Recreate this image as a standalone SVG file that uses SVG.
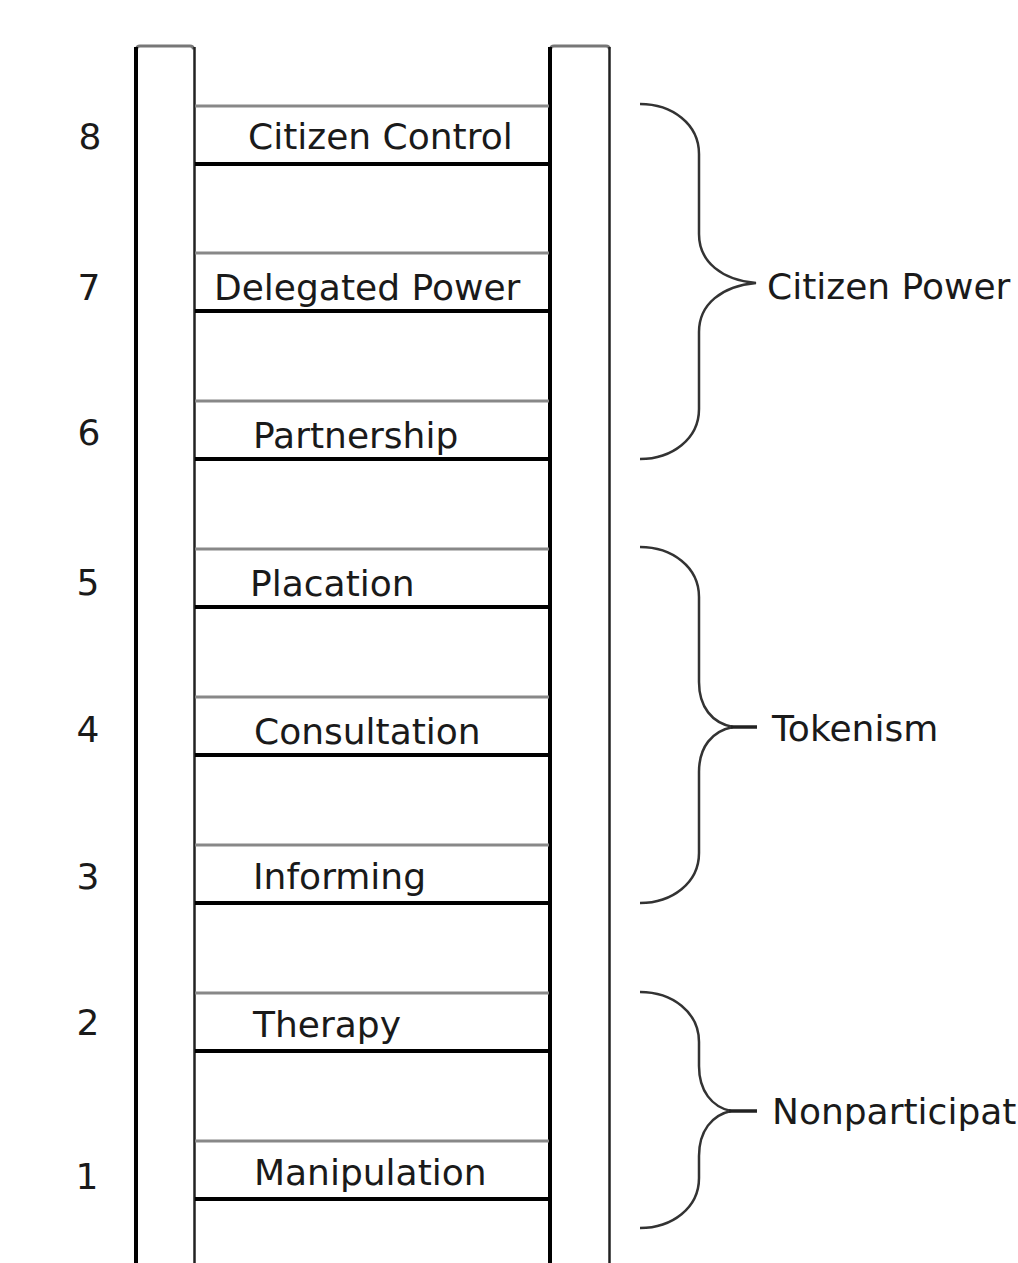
<svg xmlns="http://www.w3.org/2000/svg" width="1018" height="1263" viewBox="0 0 1018 1263">
<style>
  text { font-family: "DejaVu Sans", "Liberation Sans", sans-serif; font-size: 36px; fill: #1a1a1a; }
  .num { text-anchor: middle; }
  .railL { stroke: #000; stroke-width: 4; fill: none; }
  .railR { stroke: #222; stroke-width: 2.5; fill: none; }
  .railT { stroke: #777; stroke-width: 3; fill: none; stroke-linecap: round; }
  .rungT { stroke: #888; stroke-width: 3; }
  .rungB { stroke: #000; stroke-width: 4; }
  .brace { stroke: #333; stroke-width: 2.5; fill: none; }
  .spur { stroke: #222; stroke-width: 3.5; }
</style>
<rect width="1018" height="1263" fill="#fff"/>

<g id="ladder">
  <g id="rail-left">
    <path class="railT" d="M137,48 Q137,46 140,46 H190 Q193,46 193,48"/>
    <line class="railL" x1="136" y1="47" x2="136" y2="1263"/>
    <line class="railR" x1="194.5" y1="47" x2="194.5" y2="1263"/>
  </g>
  <g id="rail-right">
    <path class="railT" d="M551,48 Q551,46 554,46 H606 Q609,46 609,48"/>
    <line class="railL" x1="550" y1="47" x2="550" y2="1263"/>
    <line class="railR" x1="609.5" y1="47" x2="609.5" y2="1263"/>
  </g>
</g>

<g id="rung-8"><line class="rungT" x1="195" y1="106" x2="549" y2="106"/><line class="rungB" x1="195" y1="164" x2="549" y2="164"/><text x="248" y="149">Citizen Control</text></g>
<g id="rung-7"><line class="rungT" x1="195" y1="253" x2="549" y2="253"/><line class="rungB" x1="195" y1="311" x2="549" y2="311"/><text x="214" y="300">Delegated Power</text></g>
<g id="rung-6"><line class="rungT" x1="195" y1="401" x2="549" y2="401"/><line class="rungB" x1="195" y1="459" x2="549" y2="459"/><text x="253" y="448">Partnership</text></g>
<g id="rung-5"><line class="rungT" x1="195" y1="549" x2="549" y2="549"/><line class="rungB" x1="195" y1="607" x2="549" y2="607"/><text x="250" y="596">Placation</text></g>
<g id="rung-4"><line class="rungT" x1="195" y1="697" x2="549" y2="697"/><line class="rungB" x1="195" y1="755" x2="549" y2="755"/><text x="254" y="744">Consultation</text></g>
<g id="rung-3"><line class="rungT" x1="195" y1="845" x2="549" y2="845"/><line class="rungB" x1="195" y1="903" x2="549" y2="903"/><text x="253" y="889">Informing</text></g>
<g id="rung-2"><line class="rungT" x1="195" y1="993" x2="549" y2="993"/><line class="rungB" x1="195" y1="1051" x2="549" y2="1051"/><text x="253" y="1037">Therapy</text></g>
<g id="rung-1"><line class="rungT" x1="195" y1="1141" x2="549" y2="1141"/><line class="rungB" x1="195" y1="1199" x2="549" y2="1199"/><text x="254" y="1185">Manipulation</text></g>

<g id="numbers">
  <text class="num" x="90" y="149">8</text>
  <text class="num" x="89" y="300">7</text>
  <text class="num" x="89" y="445">6</text>
  <text class="num" x="88" y="595">5</text>
  <text class="num" x="88" y="742">4</text>
  <text class="num" x="88" y="889">3</text>
  <text class="num" x="88" y="1035">2</text>
  <text class="num" x="87" y="1189">1</text>
</g>

<g id="group-citizen-power">
  <path class="brace" d="M640,104 C672,104 699,124 699,154 V234 C699,262 722,280 756,283 C722,286 699,304 699,332 V409 C699,439 672,459 640,459"/>
  <text x="767" y="299">Citizen Power</text>
</g>
<g id="group-tokenism">
  <path class="brace" d="M640,547 C672,547 699,567 699,597 V682 C699,707 712,723 733,727 C712,731 699,747 699,772 V853 C699,883 672,903 640,903"/>
  <line class="spur" x1="731" y1="727" x2="757" y2="727"/>
  <text x="772" y="741">Tokenism</text>
</g>
<g id="group-nonparticipation">
  <path class="brace" d="M640,992 C672,992 699,1012 699,1042 V1066 C699,1091 712,1107 731,1111 C712,1115 699,1131 699,1156 V1178 C699,1208 672,1228 640,1228"/>
  <line class="spur" x1="729" y1="1111" x2="757" y2="1111"/>
  <text x="772" y="1124">Nonparticipation</text>
</g>
</svg>
